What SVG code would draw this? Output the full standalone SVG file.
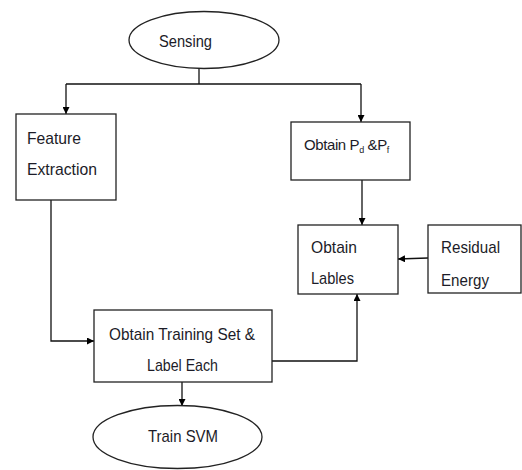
<svg xmlns="http://www.w3.org/2000/svg" width="522" height="470" viewBox="0 0 522 470">
<style>
.box{fill:#fff;stroke:#222;stroke-width:1.3}
.t{font-family:"Liberation Sans",Arial,sans-serif;font-size:17px;fill:#1c1c28}
.s{font-size:9px}
.c{fill:none;stroke:#111;stroke-width:1.3}
</style>
<defs>
<marker id="ah" viewBox="0 0 10 10" refX="10" refY="5" markerWidth="7" markerHeight="7" markerUnits="userSpaceOnUse" orient="auto">
<path d="M0,0 L10,5 L0,10 z" fill="#000"/>
</marker>
<clipPath id="resclip"><rect x="428" y="225" width="94" height="68"/></clipPath>
</defs>
<rect width="522" height="470" fill="#fff"/>
<g id="connectors">
<path class="c" d="M199,69 V84"/>
<path class="c" d="M66,84 H361"/>
<path class="c" d="M66,84 V114" marker-end="url(#ah)"/>
<path class="c" d="M361,84 V122" marker-end="url(#ah)"/>
<path class="c" d="M362,180 V225" marker-end="url(#ah)"/>
<path class="c" d="M428,258 L398,259" marker-end="url(#ah)"/>
<path class="c" d="M51,200 V341 H94" marker-end="url(#ah)"/>
<path class="c" d="M272,361 H357 V294" marker-end="url(#ah)"/>
<path class="c" d="M182,382 V406" marker-end="url(#ah)"/>
</g>
<g id="sensing">
<ellipse class="box" cx="204" cy="40" rx="75" ry="28.5"/>
<text class="t" x="159" y="47" textLength="53" lengthAdjust="spacingAndGlyphs">Sensing</text>
</g>
<g id="feature">
<rect class="box" x="16" y="114" width="100" height="86"/>
<text class="t" x="27" y="144" textLength="54" lengthAdjust="spacingAndGlyphs">Feature</text>
<text class="t" x="27" y="175" textLength="70" lengthAdjust="spacingAndGlyphs">Extraction</text>
</g>
<g id="obtainpd">
<rect class="box" x="291" y="122" width="119" height="58"/>
<text class="t" x="304" y="150" style="font-size:15px;letter-spacing:-0.4px">Obtain P<tspan class="s" baseline-shift="-3">d</tspan> &amp;P<tspan class="s" baseline-shift="-3">f</tspan></text>
</g>
<g id="lables">
<rect class="box" x="298" y="225" width="100" height="69"/>
<text class="t" x="311" y="253" textLength="46" lengthAdjust="spacingAndGlyphs">Obtain</text>
<text class="t" x="311" y="284" textLength="43" lengthAdjust="spacingAndGlyphs">Lables</text>
</g>
<g id="residual">
<rect class="box" x="428" y="225" width="93" height="68"/>
<g clip-path="url(#resclip)">
<text class="t" x="441" y="253" textLength="59" lengthAdjust="spacingAndGlyphs">Residual</text>
<text class="t" x="441" y="286" textLength="48" lengthAdjust="spacingAndGlyphs">Energy</text>
</g>
</g>
<g id="training">
<rect class="box" x="94" y="310" width="178" height="72"/>
<text class="t" x="109" y="340" textLength="146" lengthAdjust="spacingAndGlyphs">Obtain Training Set &amp;</text>
<text class="t" x="147" y="371" textLength="71" lengthAdjust="spacingAndGlyphs">Label Each</text>
</g>
<g id="trainsvm">
<ellipse class="box" cx="177.5" cy="437" rx="84.5" ry="31.5"/>
<text class="t" x="148" y="442" textLength="70" lengthAdjust="spacingAndGlyphs">Train SVM</text>
</g>
</svg>
